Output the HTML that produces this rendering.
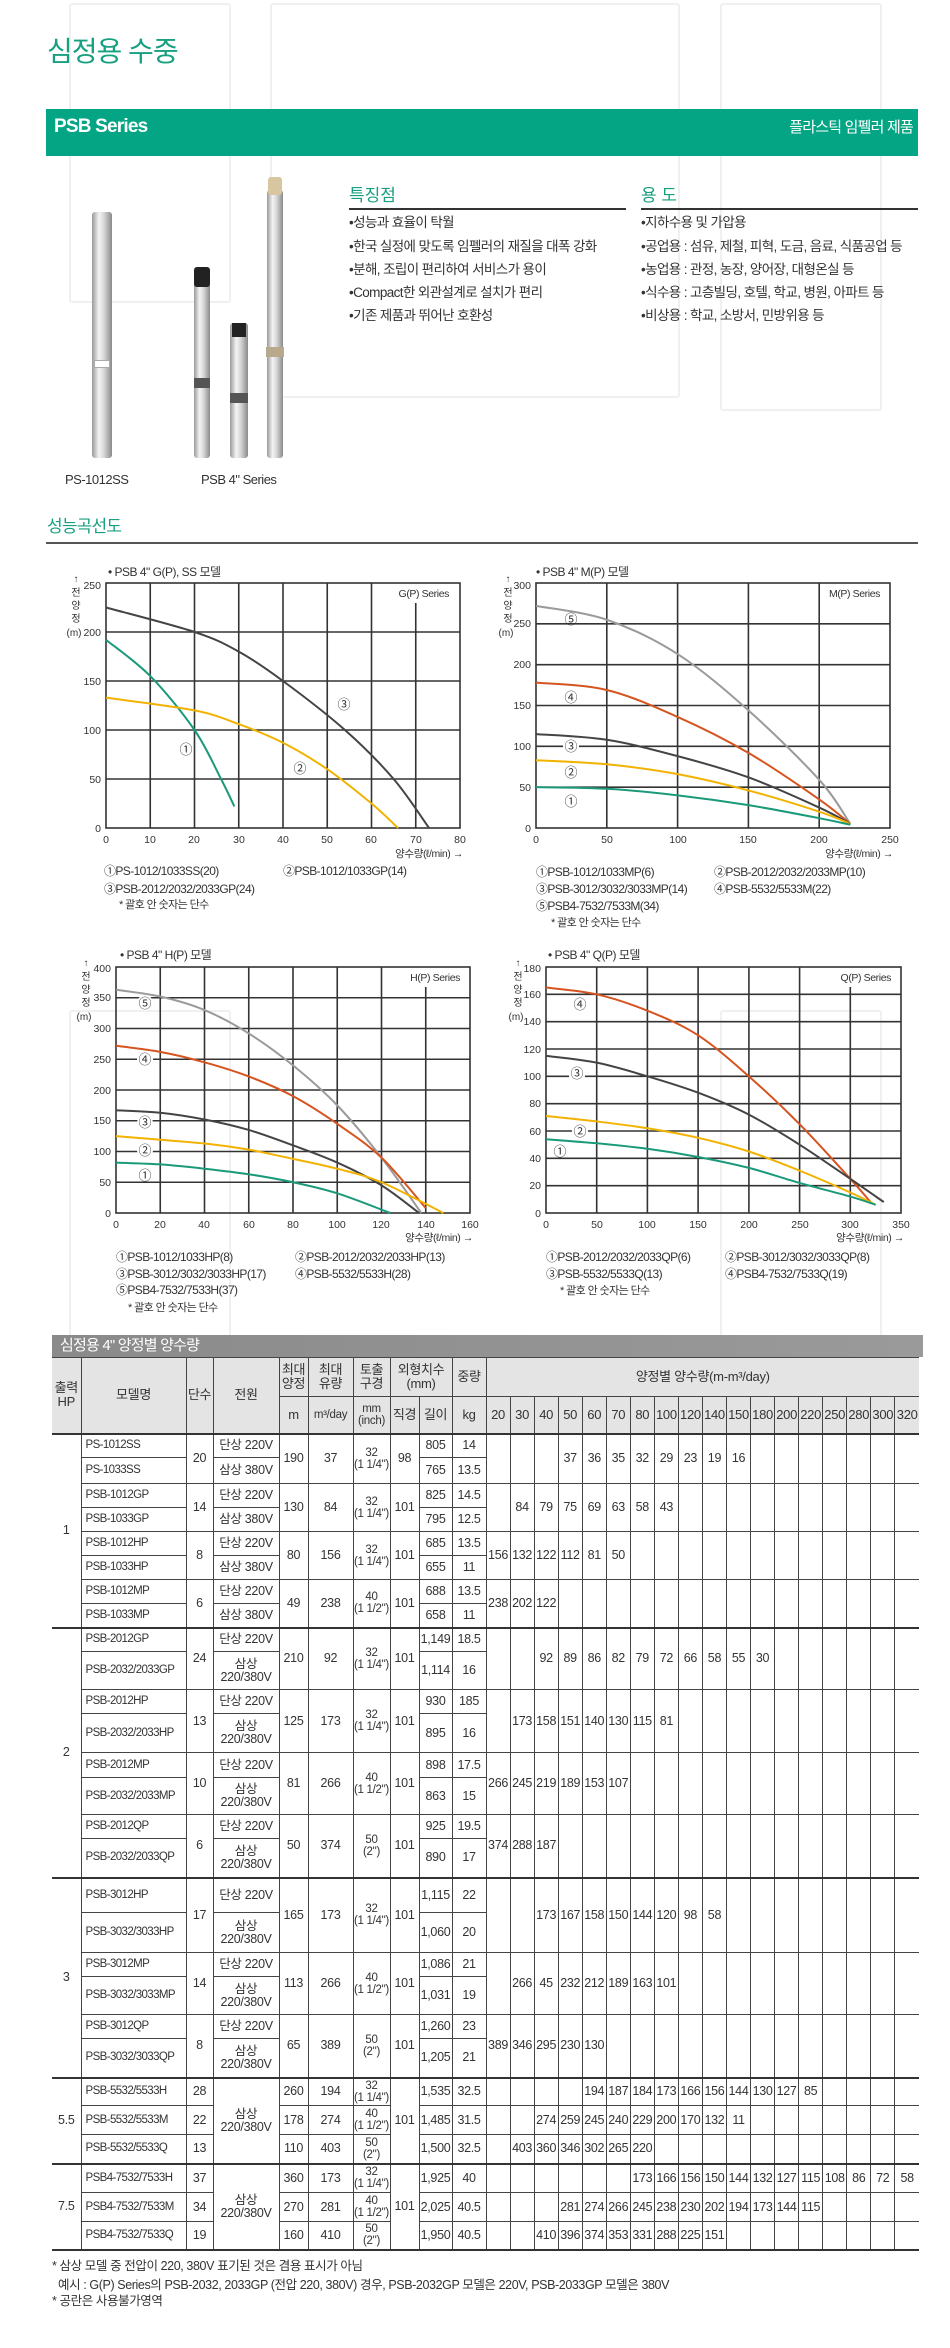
<!DOCTYPE html>
<html><head><meta charset="utf-8">
<style>
*{margin:0;padding:0;box-sizing:border-box}
body{width:950px;height:2348px;position:relative;background:#fff;font-family:"Liberation Sans","Noto Sans CJK KR","NanumGothic",sans-serif;color:#333;overflow:hidden}
.a{position:absolute;white-space:nowrap}
.wm{position:absolute;border:2px solid #f0f0f0;border-radius:3px}
.pump{position:absolute;background:linear-gradient(90deg,#9a9a9a,#f4f4f4 35%,#d6d6d6 60%,#8a8a8a);border-radius:3px}
.bl{font-size:13.5px;letter-spacing:-0.6px;line-height:16px}
table{position:absolute;left:52px;top:1357px;width:867px;border-collapse:collapse;table-layout:fixed;font-size:12.5px;letter-spacing:-0.3px}
td{border:1px solid #444;text-align:center;vertical-align:middle;padding:0;line-height:13px;overflow:hidden;white-space:nowrap}
td.m{text-align:left;padding-left:4px;font-size:11.5px;letter-spacing:-0.6px}
td.s{font-size:11.5px;line-height:12px}
thead td{background:#e4e4e4;font-size:13px;line-height:14px}
tr>td:first-child{border-left:none}
tr.g>td{border-top:2px solid #333}
td.lr{border-right:none}
</style></head><body>
<div class="wm" style="left:69px;top:3px;width:162px;height:300px"></div>
<div class="wm" style="left:270px;top:3px;width:410px;height:395px"></div>
<div class="wm" style="left:720px;top:3px;width:162px;height:408px"></div>
<div class="wm" style="left:69px;top:1010px;width:162px;height:380px"></div>
<div class="wm" style="left:720px;top:1010px;width:162px;height:380px"></div>

<div class="a" style="left:47px;top:30px;font-size:28px;color:#17a080;letter-spacing:-1px">심정용 수중</div>
<div class="a" style="left:46px;top:109px;width:872px;height:47px;background:#04a584"></div>
<div class="a" style="left:54px;top:116px;font-size:19px;font-weight:bold;color:#fff;letter-spacing:-0.8px">PSB Series</div>
<div class="a" style="right:37px;top:116px;font-size:15px;color:#fff;letter-spacing:-0.8px">플라스틱 임펠러 제품</div>

<div class="pump" style="left:92px;top:212px;width:20px;height:246px"></div>
<div class="a" style="left:94px;top:360px;width:16px;height:8px;background:#fff;border:1px solid #aaa"></div>
<div class="pump" style="left:194px;top:268px;width:16px;height:190px"></div>
<div class="a" style="left:194px;top:267px;width:16px;height:20px;background:#222;border-radius:3px"></div>
<div class="a" style="left:194px;top:378px;width:16px;height:10px;background:#555"></div>
<div class="pump" style="left:230px;top:323px;width:18px;height:135px"></div>
<div class="a" style="left:232px;top:323px;width:14px;height:14px;background:#222"></div>
<div class="a" style="left:230px;top:393px;width:18px;height:10px;background:#555"></div>
<div class="pump" style="left:267px;top:190px;width:16px;height:268px"></div>
<div class="a" style="left:268px;top:177px;width:14px;height:18px;background:#d8c6a0;border-radius:3px"></div>
<div class="a" style="left:266px;top:347px;width:18px;height:10px;background:#b9a98c"></div>
<div class="a" style="left:65px;top:472px;font-size:13px;letter-spacing:-0.5px">PS-1012SS</div>
<div class="a" style="left:201px;top:472px;font-size:13px;letter-spacing:-0.5px">PSB 4" Series</div>

<div class="a" style="left:349px;top:181px;font-size:17px;color:#17a080">특징점</div>
<div class="a" style="left:349px;top:208px;width:277px;height:2px;background:#333"></div>
<div class="a" style="left:641px;top:181px;font-size:17px;color:#17a080">용 도</div>
<div class="a" style="left:641px;top:208px;width:277px;height:2px;background:#333"></div>
<div class="a bl" style="left:349px;top:215px">•성능과 효율이 탁월</div>
<div class="a bl" style="left:349px;top:239px">•한국 실정에 맞도록 임펠러의 재질을 대폭 강화</div>
<div class="a bl" style="left:349px;top:262px">•분해, 조립이 편리하여 서비스가 용이</div>
<div class="a bl" style="left:349px;top:285px">•Compact한 외관설계로 설치가 편리</div>
<div class="a bl" style="left:349px;top:308px">•기존 제품과 뛰어난 호환성</div>
<div class="a bl" style="left:641px;top:215px">•지하수용 및 가압용</div>
<div class="a bl" style="left:641px;top:239px">•공업용 : 섬유, 제철, 피혁, 도금, 음료, 식품공업 등</div>
<div class="a bl" style="left:641px;top:262px">•농업용 : 관정, 농장, 양어장, 대형온실 등</div>
<div class="a bl" style="left:641px;top:285px">•식수용 : 고층빌딩, 호텔, 학교, 병원, 아파트 등</div>
<div class="a bl" style="left:641px;top:308px">•비상용 : 학교, 소방서, 민방위용 등</div>

<div class="a" style="left:47px;top:512px;font-size:17px;color:#17a080;letter-spacing:-0.8px">성능곡선도</div>
<div class="a" style="left:46px;top:542px;width:872px;height:2px;background:#555"></div>

<svg class="a" style="left:0;top:0" width="950" height="1340" font-family="Liberation Sans, Noto Sans CJK KR, sans-serif" fill="#333">
<g stroke="#333" stroke-width="1.6" fill="none">
<rect x="106" y="583" width="354" height="245"/>
<path d="M150.25 583V828M194.5 583V828M238.75 583V828M283 583V828M327.25 583V828M371.5 583V828M415.75 603V828M106 779H460M106 730H460M106 681H460M106 632H460"/>
<rect x="536" y="583" width="354" height="245"/>
<path d="M606.8 583V828M677.6 583V828M748.4 583V828M819.2 583V828M536 787.2H890M536 746.3H890M536 705.5H890M536 664.7H890M536 623.8H890"/>
<rect x="116" y="967" width="354" height="246"/>
<path d="M160.25 967V1213M204.5 967V1213M248.75 967V1213M293 967V1213M337.25 967V1213M381.5 967V1213M425.75 987V1213M116 1182.25H470M116 1151.5H470M116 1120.75H470M116 1090H470M116 1059.25H470M116 1028.5H470M116 997.75H470"/>
<rect x="546" y="967" width="355" height="246"/>
<path d="M596.7 967V1213M647.4 967V1213M698.1 967V1213M748.9 967V1213M799.6 967V1213M850.3 987V1213M546 1185.7H901M546 1158.3H901M546 1131H901M546 1103.7H901M546 1076.3H901M546 1049H901M546 1021.7H901M546 994.3H901"/>
</g>
<g id="curves" fill="none" stroke-width="2"></g>
<g font-size="10.5" text-anchor="end">
<text x="101" y="832">0</text><text x="101" y="783">50</text><text x="101" y="734">100</text><text x="101" y="685">150</text><text x="101" y="636">200</text><text x="101" y="589">250</text>
<text x="531" y="832">0</text><text x="531" y="791">50</text><text x="531" y="750">100</text><text x="531" y="709">150</text><text x="531" y="668">200</text><text x="531" y="627">250</text><text x="531" y="589">300</text>
<text x="111" y="1217">0</text><text x="111" y="1186">50</text><text x="111" y="1155">100</text><text x="111" y="1124">150</text><text x="111" y="1094">200</text><text x="111" y="1063">250</text><text x="111" y="1032">300</text><text x="111" y="1001">350</text><text x="111" y="972">400</text>
<text x="541" y="1217">0</text><text x="541" y="1189">20</text><text x="541" y="1162">40</text><text x="541" y="1135">60</text><text x="541" y="1107">80</text><text x="541" y="1080">100</text><text x="541" y="1053">120</text><text x="541" y="1025">140</text><text x="541" y="998">160</text><text x="541" y="972">180</text>
</g>
<g font-size="10.5" text-anchor="middle">
<text x="106" y="843">0</text><text x="150" y="843">10</text><text x="194" y="843">20</text><text x="239" y="843">30</text><text x="283" y="843">40</text><text x="327" y="843">50</text><text x="371" y="843">60</text><text x="416" y="843">70</text><text x="460" y="843">80</text>
<text x="536" y="843">0</text><text x="607" y="843">50</text><text x="678" y="843">100</text><text x="748" y="843">150</text><text x="819" y="843">200</text><text x="890" y="843">250</text>
<text x="116" y="1228">0</text><text x="160" y="1228">20</text><text x="204" y="1228">40</text><text x="249" y="1228">60</text><text x="293" y="1228">80</text><text x="337" y="1228">100</text><text x="381" y="1228">120</text><text x="426" y="1228">140</text><text x="470" y="1228">160</text>
<text x="546" y="1228">0</text><text x="597" y="1228">50</text><text x="647" y="1228">100</text><text x="698" y="1228">150</text><text x="749" y="1228">200</text><text x="800" y="1228">250</text><text x="850" y="1228">300</text><text x="901" y="1228">350</text>
</g>
<g font-size="10.5" text-anchor="end" letter-spacing="-0.4">
<text x="463" y="857">양수량(ℓ/min) →</text><text x="893" y="857">양수량(ℓ/min) →</text>
<text x="473" y="1241">양수량(ℓ/min) →</text><text x="904" y="1241">양수량(ℓ/min) →</text>
<text x="449" y="597">G(P) Series</text><text x="880" y="597">M(P) Series</text>
<text x="460" y="981">H(P) Series</text><text x="891" y="981">Q(P) Series</text>
</g>
<g font-size="12" letter-spacing="-0.5">
<text x="108" y="576">• PSB 4" G(P), SS 모델</text><text x="536" y="576">• PSB 4" M(P) 모델</text>
<text x="120" y="959">• PSB 4" H(P) 모델</text><text x="548" y="959">• PSB 4" Q(P) 모델</text>
</g>
<g font-size="10" text-anchor="middle">
<text x="76" y="582">↑</text><text x="76" y="596">전</text><text x="76" y="609">양</text><text x="76" y="622">정</text><text x="74" y="636">(m)</text>
<text x="508" y="582">↑</text><text x="508" y="596">전</text><text x="508" y="609">양</text><text x="508" y="622">정</text><text x="506" y="636">(m)</text>
<text x="86" y="966">↑</text><text x="86" y="980">전</text><text x="86" y="993">양</text><text x="86" y="1006">정</text><text x="84" y="1020">(m)</text>
<text x="518" y="966">↑</text><text x="518" y="980">전</text><text x="518" y="993">양</text><text x="518" y="1006">정</text><text x="516" y="1020">(m)</text>
</g>
<g font-size="13" text-anchor="middle">
<text x="186" y="754">①</text><text x="300" y="773">②</text><text x="344" y="709">③</text>
<circle cx="571" cy="746" r="8" fill="#fff"/>
<text x="571" y="806">①</text><text x="571" y="777">②</text><text x="571" y="751">③</text><text x="571" y="702">④</text><text x="571" y="624">⑤</text>
<circle cx="145" cy="1150" r="8" fill="#fff"/><circle cx="145" cy="1123" r="8" fill="#fff"/><circle cx="145" cy="1059" r="8" fill="#fff"/><circle cx="145" cy="1003" r="8" fill="#fff"/>
<text x="145" y="1180">①</text><text x="145" y="1155">②</text><text x="145" y="1127">③</text><text x="145" y="1064">④</text><text x="145" y="1008">⑤</text>
<circle cx="577" cy="1076" r="8" fill="#fff"/><circle cx="580" cy="1131" r="8" fill="#fff"/>
<text x="560" y="1156">①</text><text x="580" y="1136">②</text><text x="577" y="1078">③</text><text x="580" y="1009">④</text>
</g>
<g font-size="12" letter-spacing="-0.6">
<text x="104" y="875">①PS-1012/1033SS(20)</text><text x="283" y="875">②PSB-1012/1033GP(14)</text>
<text x="104" y="893">③PSB-2012/2032/2033GP(24)</text><text x="119" y="908" font-size="11">* 괄호 안 숫자는 단수</text>
<text x="536" y="876">①PSB-1012/1033MP(6)</text><text x="714" y="876">②PSB-2012/2032/2033MP(10)</text>
<text x="536" y="893">③PSB-3012/3032/3033MP(14)</text><text x="714" y="893">④PSB-5532/5533M(22)</text>
<text x="536" y="910">⑤PSB4-7532/7533M(34)</text><text x="551" y="926" font-size="11">* 괄호 안 숫자는 단수</text>
<text x="116" y="1261">①PSB-1012/1033HP(8)</text><text x="295" y="1261">②PSB-2012/2032/2033HP(13)</text>
<text x="116" y="1278">③PSB-3012/3032/3033HP(17)</text><text x="295" y="1278">④PSB-5532/5533H(28)</text>
<text x="116" y="1294">⑤PSB4-7532/7533H(37)</text><text x="128" y="1311" font-size="11">* 괄호 안 숫자는 단수</text>
<text x="546" y="1261">①PSB-2012/2032/2033QP(6)</text><text x="725" y="1261">②PSB-3012/3032/3033QP(8)</text>
<text x="546" y="1278">③PSB-5532/5533Q(13)</text><text x="725" y="1278">④PSB4-7532/7533Q(19)</text>
<text x="560" y="1294" font-size="11">* 괄호 안 숫자는 단수</text>
</g>
</svg>

<div class="a" style="left:52px;top:1335px;width:871px;height:22px;background:linear-gradient(90deg,#8a8a8a,#9a9a9a);color:#fff;font-size:15px;line-height:22px;padding-left:8px;letter-spacing:-0.8px">심정용 4" 양정별 양수량</div>

<table>
<colgroup><col style="width:29px"><col style="width:105px"><col style="width:27px"><col style="width:66px"><col style="width:29px"><col style="width:45px"><col style="width:37px"><col style="width:29px"><col style="width:33px"><col style="width:34px">
<col span="18" style="width:24.05px"></colgroup>
<thead>
<tr style="height:39px"><td rowspan="2">출력<br>HP</td><td rowspan="2">모델명</td><td rowspan="2">단수</td><td rowspan="2">전원</td><td>최대<br>양정</td><td>최대<br>유량</td><td>토출<br>구경</td><td colspan="2">외형치수<br>(mm)</td><td>중량</td><td colspan="18" class="lr">양정별 양수량(m-m³/day)</td></tr>
<tr style="height:37px"><td>m</td><td style="font-size:11.5px">m³/day</td><td class="s">mm<br>(inch)</td><td>직경</td><td>길이</td><td>kg</td><td>20</td><td>30</td><td>40</td><td>50</td><td>60</td><td>70</td><td>80</td><td>100</td><td>120</td><td>140</td><td>150</td><td>180</td><td>200</td><td>220</td><td>250</td><td>280</td><td>300</td><td class="lr">320</td></tr>
</thead>
<tbody>
<tr class="g" style="height:24px"><td rowspan="8">1</td><td class="m">PS-1012SS</td><td rowspan="2">20</td><td>단상 220V</td><td rowspan="2">190</td><td rowspan="2">37</td><td rowspan="2" class="s">32<br>(1 1/4")</td><td rowspan="2">98</td><td>805</td><td>14</td><td rowspan="2"></td><td rowspan="2"></td><td rowspan="2"></td><td rowspan="2">37</td><td rowspan="2">36</td><td rowspan="2">35</td><td rowspan="2">32</td><td rowspan="2">29</td><td rowspan="2">23</td><td rowspan="2">19</td><td rowspan="2">16</td><td rowspan="2"></td><td rowspan="2"></td><td rowspan="2"></td><td rowspan="2"></td><td rowspan="2"></td><td rowspan="2"></td><td rowspan="2" class="lr"></td></tr>
<tr style="height:26px"><td class="m">PS-1033SS</td><td>삼상 380V</td><td>765</td><td>13.5</td></tr>
<tr style="height:24px"><td class="m">PSB-1012GP</td><td rowspan="2">14</td><td>단상 220V</td><td rowspan="2">130</td><td rowspan="2">84</td><td rowspan="2" class="s">32<br>(1 1/4")</td><td rowspan="2">101</td><td>825</td><td>14.5</td><td rowspan="2"></td><td rowspan="2">84</td><td rowspan="2">79</td><td rowspan="2">75</td><td rowspan="2">69</td><td rowspan="2">63</td><td rowspan="2">58</td><td rowspan="2">43</td><td rowspan="2"></td><td rowspan="2"></td><td rowspan="2"></td><td rowspan="2"></td><td rowspan="2"></td><td rowspan="2"></td><td rowspan="2"></td><td rowspan="2"></td><td rowspan="2"></td><td rowspan="2" class="lr"></td></tr>
<tr style="height:24px"><td class="m">PSB-1033GP</td><td>삼상 380V</td><td>795</td><td>12.5</td></tr>
<tr style="height:24px"><td class="m">PSB-1012HP</td><td rowspan="2">8</td><td>단상 220V</td><td rowspan="2">80</td><td rowspan="2">156</td><td rowspan="2" class="s">32<br>(1 1/4")</td><td rowspan="2">101</td><td>685</td><td>13.5</td><td rowspan="2">156</td><td rowspan="2">132</td><td rowspan="2">122</td><td rowspan="2">112</td><td rowspan="2">81</td><td rowspan="2">50</td><td rowspan="2"></td><td rowspan="2"></td><td rowspan="2"></td><td rowspan="2"></td><td rowspan="2"></td><td rowspan="2"></td><td rowspan="2"></td><td rowspan="2"></td><td rowspan="2"></td><td rowspan="2"></td><td rowspan="2"></td><td rowspan="2" class="lr"></td></tr>
<tr style="height:24px"><td class="m">PSB-1033HP</td><td>삼상 380V</td><td>655</td><td>11</td></tr>
<tr style="height:24px"><td class="m">PSB-1012MP</td><td rowspan="2">6</td><td>단상 220V</td><td rowspan="2">49</td><td rowspan="2">238</td><td rowspan="2" class="s">40<br>(1 1/2")</td><td rowspan="2">101</td><td>688</td><td>13.5</td><td rowspan="2">238</td><td rowspan="2">202</td><td rowspan="2">122</td><td rowspan="2"></td><td rowspan="2"></td><td rowspan="2"></td><td rowspan="2"></td><td rowspan="2"></td><td rowspan="2"></td><td rowspan="2"></td><td rowspan="2"></td><td rowspan="2"></td><td rowspan="2"></td><td rowspan="2"></td><td rowspan="2"></td><td rowspan="2"></td><td rowspan="2"></td><td rowspan="2" class="lr"></td></tr>
<tr style="height:24px"><td class="m">PSB-1033MP</td><td>삼상 380V</td><td>658</td><td>11</td></tr>

<tr class="g" style="height:24px"><td rowspan="8">2</td><td class="m">PSB-2012GP</td><td rowspan="2">24</td><td>단상 220V</td><td rowspan="2">210</td><td rowspan="2">92</td><td rowspan="2" class="s">32<br>(1 1/4")</td><td rowspan="2">101</td><td>1,149</td><td>18.5</td><td rowspan="2"></td><td rowspan="2"></td><td rowspan="2">92</td><td rowspan="2">89</td><td rowspan="2">86</td><td rowspan="2">82</td><td rowspan="2">79</td><td rowspan="2">72</td><td rowspan="2">66</td><td rowspan="2">58</td><td rowspan="2">55</td><td rowspan="2">30</td><td rowspan="2"></td><td rowspan="2"></td><td rowspan="2"></td><td rowspan="2"></td><td rowspan="2"></td><td rowspan="2" class="lr"></td></tr>
<tr style="height:38px"><td class="m">PSB-2032/2033GP</td><td>삼상<br>220/380V</td><td>1,114</td><td>16</td></tr>
<tr style="height:24px"><td class="m">PSB-2012HP</td><td rowspan="2">13</td><td>단상 220V</td><td rowspan="2">125</td><td rowspan="2">173</td><td rowspan="2" class="s">32<br>(1 1/4")</td><td rowspan="2">101</td><td>930</td><td>185</td><td rowspan="2"></td><td rowspan="2">173</td><td rowspan="2">158</td><td rowspan="2">151</td><td rowspan="2">140</td><td rowspan="2">130</td><td rowspan="2">115</td><td rowspan="2">81</td><td rowspan="2"></td><td rowspan="2"></td><td rowspan="2"></td><td rowspan="2"></td><td rowspan="2"></td><td rowspan="2"></td><td rowspan="2"></td><td rowspan="2"></td><td rowspan="2"></td><td rowspan="2" class="lr"></td></tr>
<tr style="height:39px"><td class="m">PSB-2032/2033HP</td><td>삼상<br>220/380V</td><td>895</td><td>16</td></tr>
<tr style="height:25px"><td class="m">PSB-2012MP</td><td rowspan="2">10</td><td>단상 220V</td><td rowspan="2">81</td><td rowspan="2">266</td><td rowspan="2" class="s">40<br>(1 1/2")</td><td rowspan="2">101</td><td>898</td><td>17.5</td><td rowspan="2">266</td><td rowspan="2">245</td><td rowspan="2">219</td><td rowspan="2">189</td><td rowspan="2">153</td><td rowspan="2">107</td><td rowspan="2"></td><td rowspan="2"></td><td rowspan="2"></td><td rowspan="2"></td><td rowspan="2"></td><td rowspan="2"></td><td rowspan="2"></td><td rowspan="2"></td><td rowspan="2"></td><td rowspan="2"></td><td rowspan="2"></td><td rowspan="2" class="lr"></td></tr>
<tr style="height:37px"><td class="m">PSB-2032/2033MP</td><td>삼상<br>220/380V</td><td>863</td><td>15</td></tr>
<tr style="height:24px"><td class="m">PSB-2012QP</td><td rowspan="2">6</td><td>단상 220V</td><td rowspan="2">50</td><td rowspan="2">374</td><td rowspan="2" class="s">50<br>(2")</td><td rowspan="2">101</td><td>925</td><td>19.5</td><td rowspan="2">374</td><td rowspan="2">288</td><td rowspan="2">187</td><td rowspan="2"></td><td rowspan="2"></td><td rowspan="2"></td><td rowspan="2"></td><td rowspan="2"></td><td rowspan="2"></td><td rowspan="2"></td><td rowspan="2"></td><td rowspan="2"></td><td rowspan="2"></td><td rowspan="2"></td><td rowspan="2"></td><td rowspan="2"></td><td rowspan="2"></td><td rowspan="2" class="lr"></td></tr>
<tr style="height:39px"><td class="m">PSB-2032/2033QP</td><td>삼상<br>220/380V</td><td>890</td><td>17</td></tr>

<tr class="g" style="height:35px"><td rowspan="6">3</td><td class="m">PSB-3012HP</td><td rowspan="2">17</td><td>단상 220V</td><td rowspan="2">165</td><td rowspan="2">173</td><td rowspan="2" class="s">32<br>(1 1/4")</td><td rowspan="2">101</td><td>1,115</td><td>22</td><td rowspan="2"></td><td rowspan="2"></td><td rowspan="2">173</td><td rowspan="2">167</td><td rowspan="2">158</td><td rowspan="2">150</td><td rowspan="2">144</td><td rowspan="2">120</td><td rowspan="2">98</td><td rowspan="2">58</td><td rowspan="2"></td><td rowspan="2"></td><td rowspan="2"></td><td rowspan="2"></td><td rowspan="2"></td><td rowspan="2"></td><td rowspan="2"></td><td rowspan="2" class="lr"></td></tr>
<tr style="height:40px"><td class="m">PSB-3032/3033HP</td><td>삼상<br>220/380V</td><td>1,060</td><td>20</td></tr>
<tr style="height:24px"><td class="m">PSB-3012MP</td><td rowspan="2">14</td><td>단상 220V</td><td rowspan="2">113</td><td rowspan="2">266</td><td rowspan="2" class="s">40<br>(1 1/2")</td><td rowspan="2">101</td><td>1,086</td><td>21</td><td rowspan="2"></td><td rowspan="2">266</td><td rowspan="2">45</td><td rowspan="2">232</td><td rowspan="2">212</td><td rowspan="2">189</td><td rowspan="2">163</td><td rowspan="2">101</td><td rowspan="2"></td><td rowspan="2"></td><td rowspan="2"></td><td rowspan="2"></td><td rowspan="2"></td><td rowspan="2"></td><td rowspan="2"></td><td rowspan="2"></td><td rowspan="2"></td><td rowspan="2" class="lr"></td></tr>
<tr style="height:38px"><td class="m">PSB-3032/3033MP</td><td>삼상<br>220/380V</td><td>1,031</td><td>19</td></tr>
<tr style="height:24px"><td class="m">PSB-3012QP</td><td rowspan="2">8</td><td>단상 220V</td><td rowspan="2">65</td><td rowspan="2">389</td><td rowspan="2" class="s">50<br>(2")</td><td rowspan="2">101</td><td>1,260</td><td>23</td><td rowspan="2">389</td><td rowspan="2">346</td><td rowspan="2">295</td><td rowspan="2">230</td><td rowspan="2">130</td><td rowspan="2"></td><td rowspan="2"></td><td rowspan="2"></td><td rowspan="2"></td><td rowspan="2"></td><td rowspan="2"></td><td rowspan="2"></td><td rowspan="2"></td><td rowspan="2"></td><td rowspan="2"></td><td rowspan="2"></td><td rowspan="2"></td><td rowspan="2" class="lr"></td></tr>
<tr style="height:39px"><td class="m">PSB-3032/3033QP</td><td>삼상<br>220/380V</td><td>1,205</td><td>21</td></tr>

<tr class="g" style="height:28px"><td rowspan="3">5.5</td><td class="m">PSB-5532/5533H</td><td>28</td><td rowspan="3">삼상<br>220/380V</td><td>260</td><td>194</td><td class="s">32<br>(1 1/4")</td><td rowspan="3">101</td><td>1,535</td><td>32.5</td><td></td><td></td><td></td><td></td><td>194</td><td>187</td><td>184</td><td>173</td><td>166</td><td>156</td><td>144</td><td>130</td><td>127</td><td>85</td><td></td><td></td><td></td><td class="lr"></td></tr>
<tr style="height:29px"><td class="m">PSB-5532/5533M</td><td>22</td><td>178</td><td>274</td><td class="s">40<br>(1 1/2")</td><td>1,485</td><td>31.5</td><td></td><td></td><td>274</td><td>259</td><td>245</td><td>240</td><td>229</td><td>200</td><td>170</td><td>132</td><td>11</td><td></td><td></td><td></td><td></td><td></td><td></td><td class="lr"></td></tr>
<tr style="height:29px"><td class="m">PSB-5532/5533Q</td><td>13</td><td>110</td><td>403</td><td class="s">50<br>(2")</td><td>1,500</td><td>32.5</td><td></td><td>403</td><td>360</td><td>346</td><td>302</td><td>265</td><td>220</td><td></td><td></td><td></td><td></td><td></td><td></td><td></td><td></td><td></td><td></td><td class="lr"></td></tr>

<tr class="g" style="height:29px"><td rowspan="3">7.5</td><td class="m">PSB4-7532/7533H</td><td>37</td><td rowspan="3">삼상<br>220/380V</td><td>360</td><td>173</td><td class="s">32<br>(1 1/4")</td><td rowspan="3">101</td><td>1,925</td><td>40</td><td></td><td></td><td></td><td></td><td></td><td></td><td>173</td><td>166</td><td>156</td><td>150</td><td>144</td><td>132</td><td>127</td><td>115</td><td>108</td><td>86</td><td>72</td><td class="lr">58</td></tr>
<tr style="height:29px"><td class="m">PSB4-7532/7533M</td><td>34</td><td>270</td><td>281</td><td class="s">40<br>(1 1/2")</td><td>2,025</td><td>40.5</td><td></td><td></td><td></td><td>281</td><td>274</td><td>266</td><td>245</td><td>238</td><td>230</td><td>202</td><td>194</td><td>173</td><td>144</td><td>115</td><td></td><td></td><td></td><td class="lr"></td></tr>
<tr style="height:28px;border-bottom:2px solid #333"><td class="m">PSB4-7532/7533Q</td><td>19</td><td>160</td><td>410</td><td class="s">50<br>(2")</td><td>1,950</td><td>40.5</td><td></td><td></td><td>410</td><td>396</td><td>374</td><td>353</td><td>331</td><td>288</td><td>225</td><td>151</td><td></td><td></td><td></td><td></td><td></td><td></td><td></td><td class="lr"></td></tr>
</tbody></table>

<div class="a" style="left:52px;top:2255px;font-size:12.5px;letter-spacing:-0.4px">* 삼상 모델 중 전압이 220, 380V 표기된 것은 겸용 표시가 아님</div>
<div class="a" style="left:58px;top:2274px;font-size:12.5px;letter-spacing:-0.4px">예시 : G(P) Series의 PSB-2032, 2033GP (전압 220, 380V) 경우, PSB-2032GP 모델은 220V, PSB-2033GP 모델은 380V</div>
<div class="a" style="left:52px;top:2290px;font-size:12.5px;letter-spacing:-0.4px">* 공란은 사용불가영역</div>

<script>
(function(){
var C={t:"#1a9a7a",y:"#f2b200",d:"#444",o:"#d6541f",g:"#9a9a9a"};
var charts=[
{x0:106,x1:460,y0:828,y1:583,xm:80,ym:250,c:[
["t",[[0,192],[10,155],[20,100],[26,50],[29,22]]],
["y",[[0,133],[20,120],[30,106],[40,87],[50,60],[60,25],[66,0]]],
["d",[[0,225],[20,200],[30,180],[40,150],[54,100],[65,50],[73,0]]]]},
{x0:536,x1:890,y0:828,y1:583,xm:250,ym:300,c:[
["g",[[0,272],[50,255],[100,213],[150,144],[200,59],[222,5]]],
["o",[[0,178],[50,169],[100,136],[150,92],[200,35],[222,5]]],
["d",[[0,115],[50,108],[100,88],[150,62],[200,25],[222,5]]],
["y",[[0,83],[50,78],[100,66],[150,46],[200,20],[222,5]]],
["t",[[0,50],[50,48],[100,40],[150,28],[200,12],[222,4]]]]},
{x0:116,x1:470,y0:1213,y1:967,xm:160,ym:400,c:[
["g",[[0,363],[20,352],[40,330],[60,292],[80,240],[100,175],[120,90],[138,0]]],
["o",[[0,272],[20,262],[40,245],[60,222],[80,190],[100,145],[120,90],[140,8]]],
["d",[[0,167],[20,163],[40,152],[60,135],[80,110],[100,82],[120,45],[137,0]]],
["y",[[0,125],[40,113],[60,103],[80,88],[100,72],[120,50],[148,0]]],
["t",[[0,82],[20,79],[40,72],[60,63],[80,50],[100,32],[124,0]]]]},
{x0:546,x1:901,y0:1213,y1:967,xm:350,ym:180,c:[
["o",[[0,165],[50,160],[100,148],[150,130],[200,100],[250,65],[300,25],[320,8]]],
["d",[[0,115],[50,110],[100,100],[150,88],[200,72],[250,50],[300,25],[333,8]]],
["y",[[0,71],[50,67],[100,62],[150,55],[200,45],[250,31],[300,15],[325,6]]],
["t",[[0,54],[50,51],[100,47],[150,41],[200,33],[250,22],[300,12],[325,6]]]]}];
var g=document.getElementById("curves"),ns="http://www.w3.org/2000/svg";
charts.forEach(function(ch){ch.c.forEach(function(cv){
var p=cv[1].map(function(a){return [ch.x0+(ch.x1-ch.x0)*a[0]/ch.xm, ch.y0-(ch.y0-ch.y1)*a[1]/ch.ym];});
var d="M"+p[0][0]+" "+p[0][1];
for(var i=0;i<p.length-1;i++){var p0=p[i-1]||p[i],p1=p[i],p2=p[i+1],p3=p[i+2]||p2;
d+=" C"+(p1[0]+(p2[0]-p0[0])/6)+" "+(p1[1]+(p2[1]-p0[1])/6)+" "+(p2[0]-(p3[0]-p1[0])/6)+" "+(p2[1]-(p3[1]-p1[1])/6)+" "+p2[0]+" "+p2[1];}
var e=document.createElementNS(ns,"path");e.setAttribute("d",d);e.setAttribute("stroke",C[cv[0]]);g.appendChild(e);});});
})();
</script>
</body></html>
